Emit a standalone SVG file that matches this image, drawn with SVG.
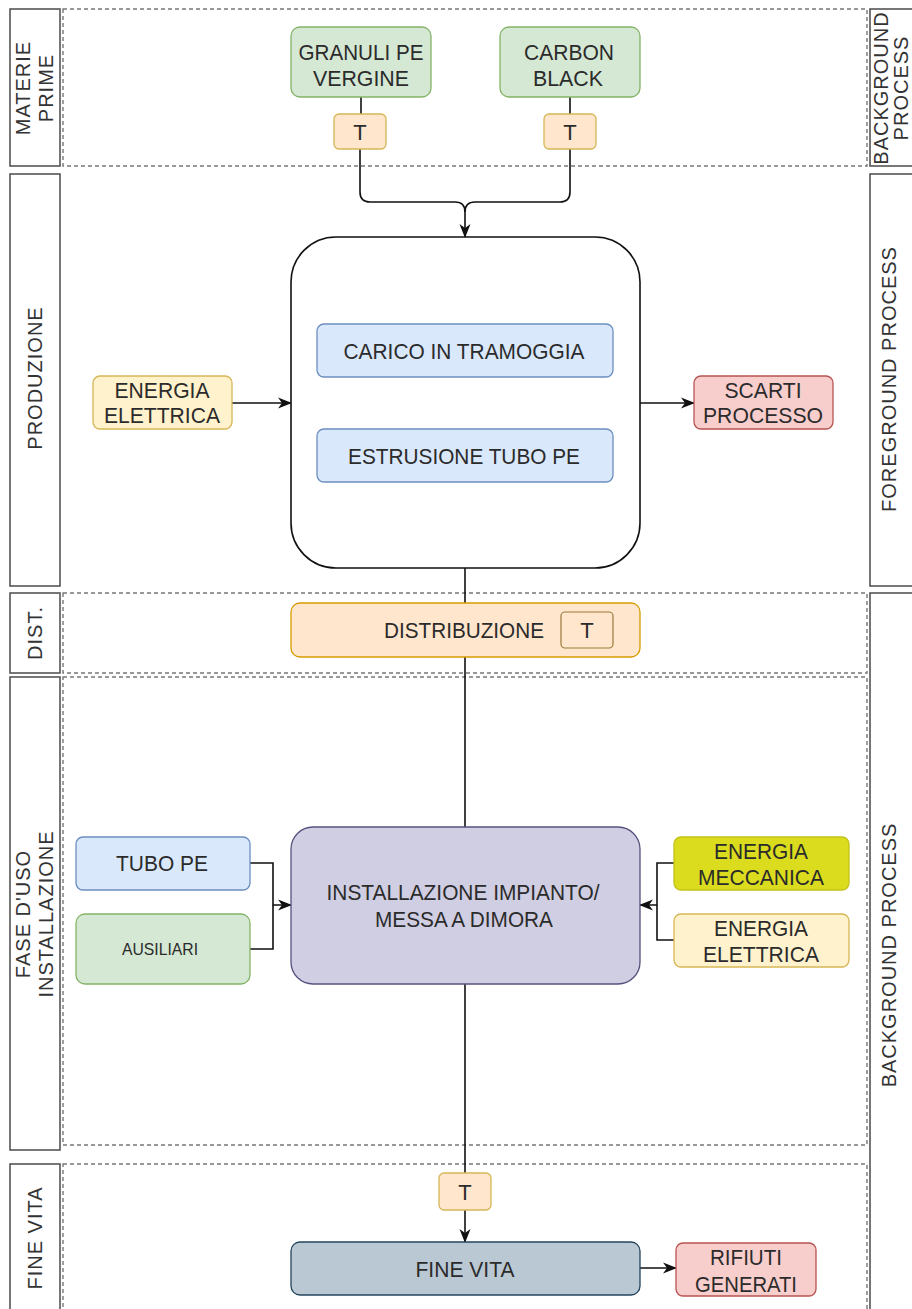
<svg xmlns="http://www.w3.org/2000/svg" width="912" height="1309" viewBox="0 0 912 1309">
<style>
text{font-family:"Liberation Sans",Arial,sans-serif;font-size:20px;fill:#2b2b2b;text-anchor:middle}
.n{font-size:22px;fill:#2b2b2b}
.lbl{fill:#fff;stroke:#555;stroke-width:1.6}
.lane{fill:none;stroke:#777;stroke-width:1.4;stroke-dasharray:4 3}
.lt{font-size:20px;fill:#333;letter-spacing:1px}
.con{fill:none;stroke:#111;stroke-width:1.6}
.green{fill:#d5e8d4;stroke:#82b366;stroke-width:1.3}
.tbox{fill:#ffe6cc;stroke:#d6b656;stroke-width:1.3}
.orange{fill:#ffe6cc;stroke:#d79b00;stroke-width:1.3}
.blue{fill:#dae8fc;stroke:#6c8ebf;stroke-width:1.3}
.yellow{fill:#fff2cc;stroke:#d6b656;stroke-width:1.3}
.red{fill:#f8cecc;stroke:#b85450;stroke-width:1.3}
.purple{fill:#d0cee2;stroke:#56517e;stroke-width:1.3}
.slate{fill:#bac8d3;stroke:#23445d;stroke-width:1.3}
.olive{fill:#dcdc1e;stroke:#c2c21a;stroke-width:1.3}
</style>
<defs>
<marker id="arr" viewBox="0 0 14 14" refX="13" refY="7" markerWidth="14" markerHeight="14" markerUnits="userSpaceOnUse" orient="auto">
<path d="M0,1.5 L14,7 L0,12.5 L4,7 Z" fill="#111"/>
</marker>
</defs>
<rect width="912" height="1309" fill="#fff"/>

<g id="lanes">
<rect class="lane" x="63" y="9" width="804" height="157"/>
<rect class="lane" x="63" y="593" width="804" height="80"/>
<rect class="lane" x="63" y="677" width="804" height="468"/>
<rect class="lane" x="63" y="1164" width="804" height="160"/>
</g>

<g id="lane-labels">
<rect class="lbl" x="10" y="9" width="50" height="157"/>
<rect class="lbl" x="10" y="174" width="50" height="412"/>
<rect class="lbl" x="10" y="593" width="50" height="80"/>
<rect class="lbl" x="10" y="677" width="50" height="473"/>
<rect class="lbl" x="10" y="1164" width="50" height="160"/>
<rect class="lbl" x="870" y="9" width="60" height="157"/>
<rect class="lbl" x="870" y="174" width="60" height="412"/>
<rect class="lbl" x="870" y="593" width="60" height="730"/>
<g transform="translate(35,88) rotate(-90)"><text class="lt" y="-5">MATERIE</text><text class="lt" y="18">PRIME</text></g>
<g transform="translate(35,378) rotate(-90)"><text class="lt" y="7">PRODUZIONE</text></g>
<g transform="translate(35,633) rotate(-90)"><text class="lt" y="7">DIST.</text></g>
<g transform="translate(35,914) rotate(-90)"><text class="lt" y="-5">FASE D'USO</text><text class="lt" y="18">INSTALLAZIONE</text></g>
<g transform="translate(35,1238) rotate(-90)"><text class="lt" y="7">FINE VITA</text></g>
<g transform="translate(892,88) rotate(-90)"><text class="lt" y="-4">BACKGROUND</text><text class="lt" y="16">PROCESS</text></g>
<g transform="translate(893,379) rotate(-90)"><text class="lt" y="3">FOREGROUND PROCESS</text></g>
<g transform="translate(893,955) rotate(-90)"><text class="lt" y="3">BACKGROUND PROCESS</text></g>
</g>

<g id="connectors">
<path class="con" d="M361 97 V114"/>
<path class="con" d="M570 97 V114"/>
<path class="con" d="M360 149 V192 Q360 202 370 202 H455 Q465 202 465 212 V237" marker-end="url(#arr)"/>
<path class="con" d="M570 149 V192 Q570 202 560 202 H475 Q465 202 465 212"/>
<path class="con" d="M232 403 H291" marker-end="url(#arr)"/>
<path class="con" d="M640 403 H694" marker-end="url(#arr)"/>
<path class="con" d="M465 568 V827"/>
<path class="con" d="M250 863 H273 V905 H291" marker-end="url(#arr)"/>
<path class="con" d="M250 949 H273 V905"/>
<path class="con" d="M674 863 H657 V905 H640" marker-end="url(#arr)"/>
<path class="con" d="M674 940 H657 V905"/>
<path class="con" d="M465 984 V1173"/>
<path class="con" d="M465 1210 V1242" marker-end="url(#arr)"/>
<path class="con" d="M640 1268 H676" marker-end="url(#arr)"/>
</g>

<g id="granuli"><rect class="green" x="291" y="27" width="140" height="70" rx="9"/><text class="n" x="361" y="60" textLength="125" lengthAdjust="spacingAndGlyphs">GRANULI PE</text><text class="n" x="361" y="86" textLength="96" lengthAdjust="spacingAndGlyphs">VERGINE</text></g>
<g id="carbon"><rect class="green" x="500" y="27" width="140" height="70" rx="9"/><text class="n" x="569" y="60" textLength="90" lengthAdjust="spacingAndGlyphs">CARBON</text><text class="n" x="568" y="86" textLength="70" lengthAdjust="spacingAndGlyphs">BLACK</text></g>
<g id="t1"><rect class="tbox" x="334" y="114" width="52" height="35" rx="5"/><text class="n" x="360" y="140">T</text></g>
<g id="t2"><rect class="tbox" x="544" y="114" width="52" height="35" rx="5"/><text class="n" x="570" y="140">T</text></g>

<g id="produzione"><rect x="291" y="237" width="349" height="331" rx="45" fill="#fff" stroke="#111" stroke-width="1.6"/></g>
<g id="carico"><rect class="blue" x="317" y="324" width="296" height="53" rx="7"/><text class="n" x="464" y="359" textLength="241" lengthAdjust="spacingAndGlyphs">CARICO IN TRAMOGGIA</text></g>
<g id="estrusione"><rect class="blue" x="317" y="429" width="296" height="53" rx="7"/><text class="n" x="464" y="464" textLength="232" lengthAdjust="spacingAndGlyphs">ESTRUSIONE TUBO PE</text></g>
<g id="energia1"><rect class="yellow" x="93" y="376" width="139" height="53" rx="7"/><text class="n" x="162" y="398" textLength="95" lengthAdjust="spacingAndGlyphs">ENERGIA</text><text class="n" x="162" y="423" textLength="116" lengthAdjust="spacingAndGlyphs">ELETTRICA</text></g>
<g id="scarti"><rect class="red" x="694" y="376" width="139" height="53" rx="7"/><text class="n" x="763" y="398" textLength="77" lengthAdjust="spacingAndGlyphs">SCARTI</text><text class="n" x="763" y="423" textLength="120" lengthAdjust="spacingAndGlyphs">PROCESSO</text></g>

<g id="distribuzione"><rect class="orange" x="291" y="603" width="349" height="54" rx="9"/><text class="n" x="464" y="638" textLength="160" lengthAdjust="spacingAndGlyphs">DISTRIBUZIONE</text><rect x="561" y="612" width="52" height="36" rx="4" fill="#ffe6cc" stroke="#9a7a3a" stroke-width="1.2"/><text class="n" x="587" y="638">T</text></g>

<g id="installazione"><rect class="purple" x="291" y="827" width="349" height="157" rx="22"/><text class="n" x="463" y="900" textLength="273" lengthAdjust="spacingAndGlyphs">INSTALLAZIONE IMPIANTO/</text><text class="n" x="464" y="927" textLength="178" lengthAdjust="spacingAndGlyphs">MESSA A DIMORA</text></g>
<g id="tubo"><rect class="blue" x="76" y="837" width="174" height="53" rx="7"/><text class="n" x="162" y="871" textLength="92" lengthAdjust="spacingAndGlyphs">TUBO PE</text></g>
<g id="ausiliari"><rect class="green" x="76" y="914" width="174" height="70" rx="9"/><text class="n" x="160" y="955" style="font-size:17px" textLength="76" lengthAdjust="spacingAndGlyphs">AUSILIARI</text></g>
<g id="meccanica"><rect class="olive" x="674" y="837" width="175" height="53" rx="7"/><text class="n" x="761" y="859" textLength="94" lengthAdjust="spacingAndGlyphs">ENERGIA</text><text class="n" x="761" y="885" textLength="126" lengthAdjust="spacingAndGlyphs">MECCANICA</text></g>
<g id="energia2"><rect class="yellow" x="674" y="914" width="175" height="53" rx="7"/><text class="n" x="761" y="936" textLength="94" lengthAdjust="spacingAndGlyphs">ENERGIA</text><text class="n" x="761" y="962" textLength="116" lengthAdjust="spacingAndGlyphs">ELETTRICA</text></g>

<g id="t3"><rect class="tbox" x="439" y="1173" width="52" height="37" rx="5"/><text class="n" x="465" y="1200">T</text></g>
<g id="finevita"><rect class="slate" x="291" y="1242" width="349" height="53" rx="9"/><text class="n" x="465" y="1277" textLength="99" lengthAdjust="spacingAndGlyphs">FINE VITA</text></g>
<g id="rifiuti"><rect class="red" x="676" y="1243" width="140" height="53" rx="7"/><text class="n" x="746" y="1265" textLength="72" lengthAdjust="spacingAndGlyphs">RIFIUTI</text><text class="n" x="746" y="1292" textLength="102" lengthAdjust="spacingAndGlyphs">GENERATI</text></g>
</svg>
